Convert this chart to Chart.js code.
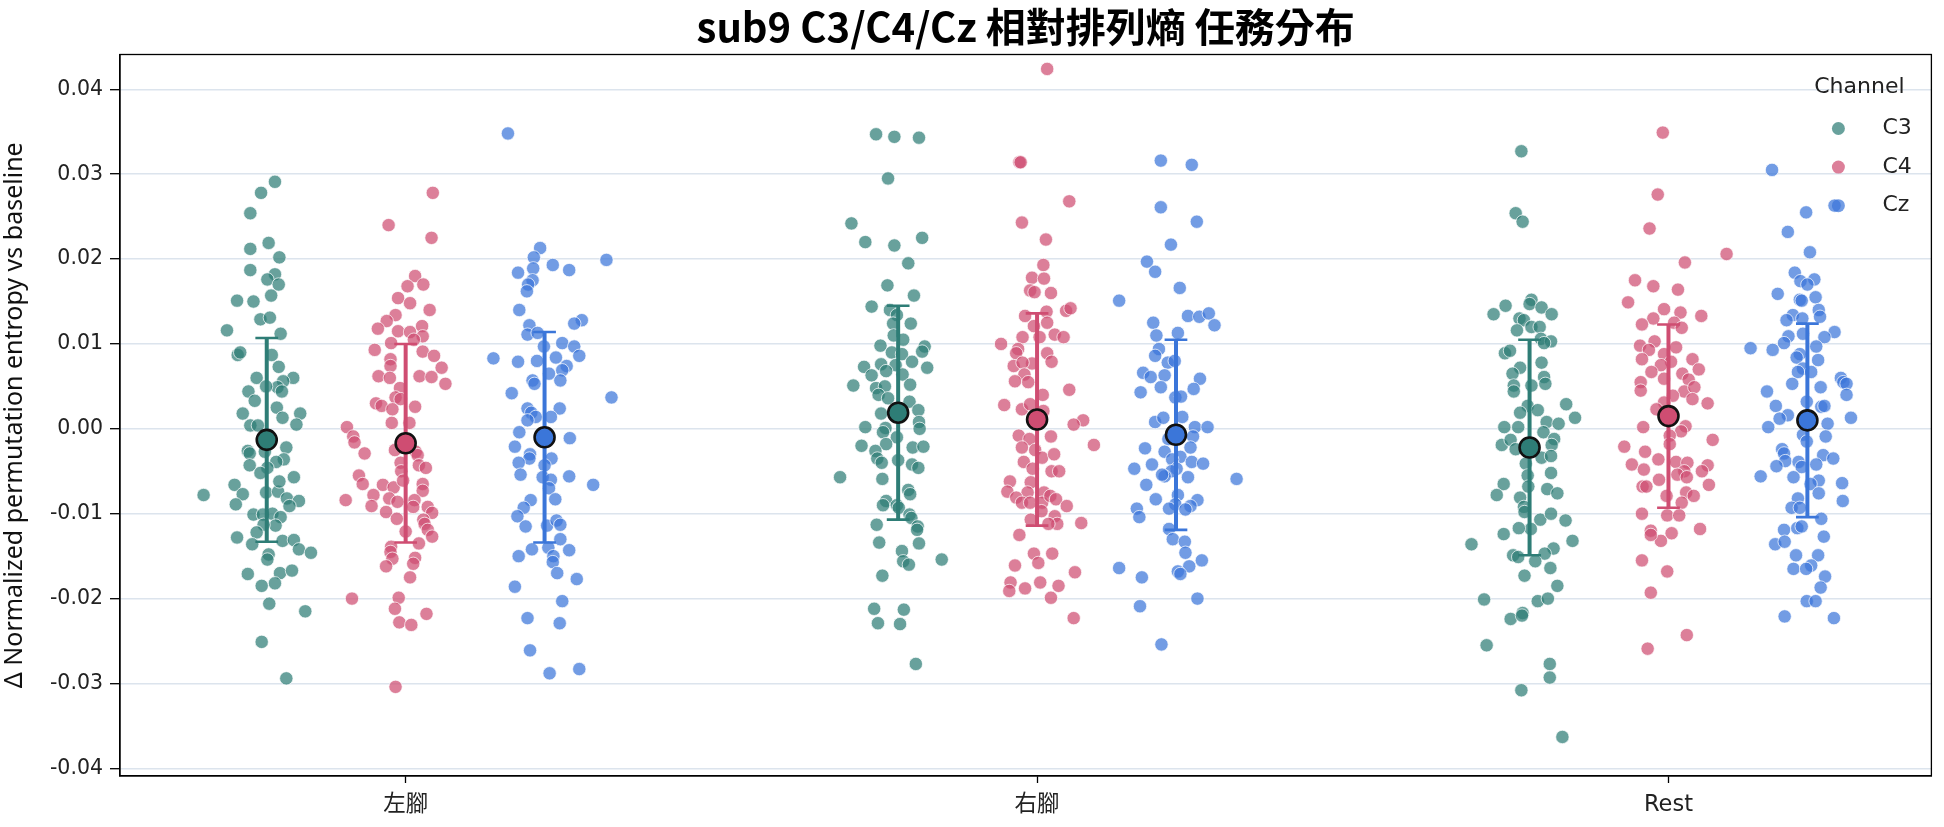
<!DOCTYPE html>
<html>
<head>
<meta charset="utf-8">
<title>sub9 C3/C4/Cz 相對排列熵 任務分布</title>
<script src="https://cdn.jsdelivr.net/npm/chart.js@4.4.1/dist/chart.umd.min.js"></script>
<style>
  html, body { margin: 0; padding: 0; background: #fff; }
  #wrap { width: 1944px; height: 827px; }
</style>
</head>
<body>
<div id="wrap"><canvas id="chart" width="1944" height="827"></canvas></div>
<script>
// categories / hues
const tasks = ['左腳', '右腳', 'Rest'];
const channels = ['C3', 'C4', 'Cz'];
const yTicks = [-0.04, -0.03, -0.02, -0.01, 0, 0.01, 0.02, 0.03, 0.04];
const chartTitle = 'sub9 C3/C4/Cz 相對排列熵 任務分布';

// per-trial values (Δ normalized permutation entropy)
const leftC3 = [0.0291,0.0278,0.0254,0.0219,0.0212,0.0202,0.0187,0.0182,0.0176,0.0170,0.0151,0.0150,0.0157,0.0129,0.0131,0.0116,0.0112,0.0087,0.0090,0.0087,0.0073,0.0060,0.0060,0.0056,0.0049,0.0044,0.0050,0.0044,0.0033,0.0025,0.0018,0.0018,0.0013,0.0004,0.0005,0.0004,-0.0026,-0.0029,-0.0022,-0.0027,-0.0036,-0.0039,-0.0043,-0.0046,-0.0052,-0.0057,-0.0066,-0.0077,-0.0078,-0.0075,-0.0074,-0.0062,-0.0082,-0.0085,-0.0091,-0.0089,-0.0101,-0.0101,-0.0100,-0.0104,-0.0114,-0.0113,-0.0122,-0.0128,-0.0136,-0.0132,-0.0131,-0.0142,-0.0146,-0.0148,-0.0154,-0.0171,-0.0170,-0.0167,-0.0182,-0.0185,-0.0206,-0.0215,-0.0251,-0.0294];
const leftC4 = [0.0278,0.0240,0.0225,0.0180,0.0168,0.0170,0.0154,0.0148,0.0140,0.0134,0.0127,0.0118,0.0115,0.0114,0.0121,0.0109,0.0105,0.0101,0.0093,0.0091,0.0086,0.0082,0.0074,0.0072,0.0062,0.0060,0.0062,0.0061,0.0053,0.0048,0.0037,0.0035,0.0030,0.0027,0.0023,0.0026,0.0007,0.0007,0.0002,-0.0009,-0.0016,-0.0029,-0.0025,-0.0027,-0.0031,-0.0040,-0.0043,-0.0046,-0.0050,-0.0055,-0.0065,-0.0066,-0.0069,-0.0065,-0.0073,-0.0061,-0.0084,-0.0078,-0.0091,-0.0082,-0.0086,-0.0084,-0.0092,-0.0092,-0.0098,-0.0099,-0.0106,-0.0107,-0.0112,-0.0119,-0.0121,-0.0127,-0.0135,-0.0139,-0.0145,-0.0153,-0.0152,-0.0159,-0.0162,-0.0175,-0.0200,-0.0199,-0.0212,-0.0218,-0.0228,-0.0231,-0.0304];
const leftCz = [0.0348,0.0213,0.0202,0.0193,0.0187,0.0184,0.0189,0.0199,0.0175,0.0170,0.0162,0.0140,0.0128,0.0124,0.0122,0.0111,0.0113,0.0097,0.0101,0.0097,0.0086,0.0083,0.0079,0.0080,0.0084,0.0074,0.0069,0.0057,0.0065,0.0057,0.0053,0.0042,0.0037,0.0024,0.0024,0.0019,0.0014,0.0014,0.0010,-0.0004,-0.0011,-0.0021,-0.0030,-0.0035,-0.0035,-0.0040,-0.0043,-0.0057,-0.0054,-0.0056,-0.0060,-0.0070,-0.0066,-0.0084,-0.0083,-0.0093,-0.0103,-0.0115,-0.0114,-0.0108,-0.0113,-0.0130,-0.0142,-0.0140,-0.0143,-0.0150,-0.0157,-0.0150,-0.0170,-0.0177,-0.0186,-0.0203,-0.0223,-0.0229,-0.0261,-0.0288,-0.0283];
const rightC3 = [0.0347,0.0344,0.0343,0.0295,0.0242,0.0220,0.0216,0.0225,0.0195,0.0169,0.0157,0.0144,0.0140,0.0134,0.0124,0.0124,0.0110,0.0105,0.0098,0.0097,0.0091,0.0090,0.0088,0.0079,0.0072,0.0073,0.0076,0.0075,0.0068,0.0063,0.0064,0.0051,0.0048,0.0050,0.0052,0.0040,0.0036,0.0032,0.0018,0.0022,0.0008,0.0002,0.0001,0.0000,-0.0004,-0.0010,-0.0020,-0.0018,-0.0022,-0.0021,-0.0026,-0.0035,-0.0040,-0.0037,-0.0042,-0.0046,-0.0057,-0.0059,-0.0072,-0.0077,-0.0085,-0.0090,-0.0090,-0.0093,-0.0101,-0.0105,-0.0113,-0.0115,-0.0119,-0.0134,-0.0135,-0.0144,-0.0156,-0.0160,-0.0154,-0.0173,-0.0212,-0.0213,-0.0229,-0.0230,-0.0277];
const rightC4 = [0.0424,0.0314,0.0314,0.0268,0.0243,0.0223,0.0193,0.0178,0.0177,0.0163,0.0161,0.0160,0.0139,0.0142,0.0133,0.0138,0.0125,0.0121,0.0108,0.0108,0.0111,0.0108,0.0100,0.0094,0.0089,0.0089,0.0077,0.0074,0.0078,0.0079,0.0064,0.0056,0.0055,0.0046,0.0040,0.0028,0.0023,0.0029,0.0021,0.0010,0.0005,-0.0008,-0.0012,-0.0009,-0.0019,-0.0022,-0.0025,-0.0034,-0.0030,-0.0039,-0.0047,-0.0050,-0.0050,-0.0063,-0.0062,-0.0074,-0.0075,-0.0075,-0.0081,-0.0087,-0.0087,-0.0087,-0.0079,-0.0083,-0.0091,-0.0097,-0.0103,-0.0107,-0.0112,-0.0111,-0.0112,-0.0125,-0.0147,-0.0147,-0.0158,-0.0161,-0.0169,-0.0181,-0.0191,-0.0188,-0.0181,-0.0185,-0.0199,-0.0223];
const rightCz = [0.0316,0.0311,0.0261,0.0244,0.0217,0.0197,0.0185,0.0166,0.0151,0.0133,0.0132,0.0136,0.0122,0.0125,0.0110,0.0113,0.0094,0.0086,0.0078,0.0080,0.0066,0.0061,0.0063,0.0049,0.0059,0.0047,0.0043,0.0037,0.0038,0.0008,0.0013,0.0014,0.0002,0.0002,-0.0009,-0.0012,-0.0023,-0.0027,-0.0022,-0.0033,-0.0036,-0.0039,-0.0041,-0.0042,-0.0047,-0.0047,-0.0050,-0.0056,-0.0057,-0.0054,-0.0059,-0.0066,-0.0083,-0.0078,-0.0084,-0.0089,-0.0091,-0.0095,-0.0094,-0.0094,-0.0104,-0.0118,-0.0130,-0.0133,-0.0146,-0.0155,-0.0162,-0.0168,-0.0171,-0.0164,-0.0175,-0.0200,-0.0209,-0.0254];
const restC3 = [0.0327,0.0254,0.0244,0.0152,0.0147,0.0145,0.0135,0.0143,0.0135,0.0130,0.0128,0.0120,0.0120,0.0116,0.0106,0.0103,0.0101,0.0089,0.0092,0.0078,0.0072,0.0065,0.0061,0.0053,0.0051,0.0044,0.0051,0.0027,0.0022,0.0019,0.0029,0.0013,0.0008,0.0006,0.0002,0.0002,-0.0004,-0.0012,-0.0019,-0.0013,-0.0024,-0.0019,-0.0034,-0.0032,-0.0041,-0.0055,-0.0052,-0.0065,-0.0078,-0.0068,-0.0071,-0.0076,-0.0081,-0.0092,-0.0098,-0.0107,-0.0100,-0.0108,-0.0118,-0.0117,-0.0124,-0.0136,-0.0132,-0.0141,-0.0147,-0.0149,-0.0151,-0.0156,-0.0164,-0.0173,-0.0185,-0.0201,-0.0203,-0.0200,-0.0217,-0.0224,-0.0220,-0.0255,-0.0277,-0.0293,-0.0308,-0.0363];
const restC4 = [0.0349,0.0276,0.0236,0.0206,0.0196,0.0175,0.0168,0.0164,0.0149,0.0141,0.0137,0.0133,0.0130,0.0123,0.0125,0.0119,0.0098,0.0103,0.0096,0.0093,0.0082,0.0088,0.0079,0.0075,0.0082,0.0070,0.0067,0.0065,0.0059,0.0058,0.0044,0.0049,0.0055,0.0045,0.0039,0.0035,0.0030,0.0031,0.0023,0.0002,0.0003,-0.0003,-0.0008,-0.0013,-0.0018,-0.0021,-0.0027,-0.0036,-0.0039,-0.0042,-0.0040,-0.0043,-0.0048,-0.0050,-0.0050,-0.0054,-0.0057,-0.0060,-0.0068,-0.0068,-0.0066,-0.0075,-0.0079,-0.0079,-0.0087,-0.0100,-0.0102,-0.0102,-0.0120,-0.0123,-0.0132,-0.0125,-0.0118,-0.0155,-0.0168,-0.0193,-0.0243,-0.0259];
const restCz = [0.0305,0.0263,0.0255,0.0232,0.0208,0.0184,0.0174,0.0176,0.0170,0.0159,0.0155,0.0152,0.0151,0.0140,0.0134,0.0128,0.0130,0.0132,0.0114,0.0112,0.0108,0.0109,0.0101,0.0095,0.0093,0.0097,0.0088,0.0081,0.0084,0.0071,0.0067,0.0067,0.0060,0.0055,0.0053,0.0040,0.0053,0.0049,0.0044,0.0027,0.0032,0.0026,0.0027,0.0016,0.0012,0.0013,0.0002,0.0006,-0.0007,-0.0009,-0.0015,-0.0024,-0.0029,-0.0031,-0.0035,-0.0038,-0.0039,-0.0044,-0.0042,-0.0045,-0.0056,-0.0057,-0.0061,-0.0065,-0.0064,-0.0076,-0.0085,-0.0082,-0.0093,-0.0093,-0.0106,-0.0119,-0.0117,-0.0115,-0.0127,-0.0136,-0.0133,-0.0149,-0.0149,-0.0161,-0.0165,-0.0165,-0.0174,-0.0187,-0.0203,-0.0203,-0.0221,-0.0223];

// strip jitter of each trial, in thousandths of a category step
const leftC3Jit = [13,-9,-26,3,-26,20,-26,13,1,19,-47,-21,7,-10,5,-63,22,-46,-42,8,19,-16,42,26,17,24,-1,-29,-19,16,-38,53,25,-26,47,-14,-30,-27,31,-3,27,15,-27,1,-10,43,-51,-38,-100,-1,18,20,32,51,36,-49,-21,-6,9,22,14,-5,-16,-47,-23,25,43,51,70,3,1,-30,21,40,13,-8,4,61,-8,31];
const leftC4Jit = [43,-27,41,15,3,28,-12,7,38,-16,-30,-44,-12,7,26,27,13,-23,-49,27,45,-24,-24,57,-43,-25,22,41,63,-9,-16,-8,-47,-38,-21,15,-22,6,-93,-83,-81,-65,-17,16,19,-8,21,32,-7,-74,-68,-36,-19,27,27,-4,-95,-51,-54,-26,-13,14,35,12,-31,42,-14,28,30,35,0,42,21,-23,-24,-21,15,12,-31,7,-85,-11,-17,33,-10,9,-16];
const leftCzJit = [-58,-7,-17,13,39,-42,-18,98,-19,-26,-28,-40,59,47,-24,-27,-11,-1,28,47,55,-81,-42,-12,18,35,28,25,7,-19,-16,-52,106,24,-27,-21,-14,10,-27,-40,40,-47,-23,-24,11,-41,0,-3,-38,39,10,7,77,-22,17,-33,-43,-30,4,19,25,25,-20,6,39,14,13,-41,20,51,-47,28,-27,24,-23,8,55];
const rightC3Jit = [-35,-6,33,-16,-74,-52,-6,38,16,-17,25,-42,-13,-2,-8,20,-7,8,-28,42,38,-10,6,22,46,-54,-27,-4,-19,-42,7,-71,-35,-21,19,-31,-16,18,-27,32,33,-52,-20,34,-24,-2,-58,-19,23,40,-36,-33,-26,0,22,32,-92,-25,16,19,-19,-24,-2,1,18,21,-34,31,30,-30,33,6,8,17,69,-25,-38,9,-32,3,28];
const rightC4Jit = [16,-28,-26,51,-24,14,10,-8,11,-11,-4,22,46,53,-19,15,16,-5,-23,4,28,42,-57,-30,-33,16,-8,-37,-23,23,-20,-35,-14,51,9,-52,-24,-11,10,73,58,-29,-12,22,90,-24,-3,8,27,-21,-7,23,35,-10,-43,-47,-15,11,-33,-24,-11,8,21,30,47,7,28,-10,32,70,18,-28,-5,24,2,-35,60,-42,-44,-19,5,34,22,58];
const rightCzJit = [-24,25,-24,33,-8,-46,-33,6,-90,19,37,52,61,-36,-31,3,-27,-33,-13,-2,-52,-40,-18,-24,38,28,-56,-1,8,-33,-20,10,30,50,27,-12,-49,-18,23,7,-6,25,43,-38,-66,1,-7,-18,19,-22,96,-47,-32,3,34,-1,23,15,-11,-62,-58,-11,-5,14,15,41,21,3,7,-90,-54,34,-57,-23];
const restC3Jit = [-13,-22,-11,3,0,-38,-57,19,35,-16,-9,3,16,-20,18,34,23,-39,-31,19,-15,-27,23,25,-25,-25,3,-3,13,-15,58,72,27,46,-40,-18,22,39,-44,-30,-22,35,19,34,-6,-3,34,-41,-52,-2,28,44,-15,-9,-8,17,34,57,2,-17,-41,-92,68,38,24,-26,-18,9,33,-8,44,-72,13,29,-11,-30,-12,-68,32,32,-13,52];
const restC4Jit = [-9,-17,-30,92,26,-53,-24,15,-64,-7,19,52,-24,-42,9,21,-45,-22,12,-31,-42,-7,4,-12,38,48,-27,22,-7,32,25,41,-44,-44,7,38,62,-7,-19,-40,27,20,2,70,2,-70,-37,-16,12,-58,30,62,-39,53,25,14,29,-15,-41,-35,64,28,40,-3,21,-42,-2,17,-28,5,-12,-28,50,-42,-2,-28,29,-33];
const restCzJit = [-56,43,-2,-31,4,-20,-11,11,0,-47,13,-12,-9,18,-23,-33,-8,20,43,-7,27,-30,-37,-90,-55,14,-12,17,-17,-7,6,-15,53,57,62,62,-24,21,-64,-50,-1,22,27,-31,-44,69,-62,32,-7,29,-1,-40,-37,25,41,-35,-14,-49,14,-9,-74,-22,18,5,55,18,56,-15,-25,-12,22,-37,-16,-9,26,-51,-36,17,-18,6,-22,-2,28,21,-1,13,-36,42];

// mean ± SD per task (左腳, 右腳, Rest)
const meanC3 = [-0.0013, 0.0019, -0.0022];
const meanC4 = [-0.0017, 0.0011, 0.0015];
const meanCz = [-0.0010, -0.0007, 0.0010];
const sdC3 = [0.0120, 0.0126, 0.0127];
const sdC4 = [0.0117, 0.0125, 0.0108];
const sdCz = [0.0124, 0.0112, 0.0114];

// styling
const hueOffset = [-0.22, 0, 0.22];
const capHalf = 0.018;
const solid = ['#2e7d76', '#cf4d72', '#3b76d9'];
const faded = ['rgba(46,125,118,0.72)', 'rgba(207,77,114,0.72)', 'rgba(59,118,217,0.72)'];
const cjk = "'Noto Sans CJK TC', 'Noto Sans', sans-serif";
const sans = "'Noto Sans', 'Noto Sans CJK TC', sans-serif";
const num = "'DejaVu Sans', 'Noto Sans CJK TC', sans-serif";

const vals = [[leftC3, rightC3, restC3], [leftC4, rightC4, restC4], [leftCz, rightCz, restCz]];
const jits = [[leftC3Jit, rightC3Jit, restC3Jit], [leftC4Jit, rightC4Jit, restC4Jit], [leftCzJit, rightCzJit, restCzJit]];
const means = [meanC3, meanC4, meanCz];
const sds = [sdC3, sdC4, sdCz];

function stripPoints(ch) {
    const pts = [];
    vals[ch].forEach((arr, t) => {
        arr.forEach((v, i) => pts.push({ x: t + hueOffset[ch] + (jits[ch][t][i] || 0) / 1000, y: v }));
    });
    return pts;
}

function stems(ch) {
    const pts = [];
    tasks.forEach((_, t) => {
        const x = t + hueOffset[ch], m = means[ch][t], s = sds[ch][t];
        pts.push({ x, y: m - s }, { x, y: m + s }, { x, y: null });
    });
    return pts;
}

function caps(ch) {
    const pts = [];
    tasks.forEach((_, t) => {
        const x = t + hueOffset[ch], m = means[ch][t], s = sds[ch][t];
        pts.push({ x: x - capHalf, y: m + s }, { x: x + capHalf, y: m + s }, { x, y: null });
        pts.push({ x: x - capHalf, y: m - s }, { x: x + capHalf, y: m - s }, { x, y: null });
    });
    return pts;
}

const datasets = [];
channels.forEach((name, ch) => {
    datasets.push({
        label: name, data: stripPoints(ch), order: 3,
        pointRadius: 6.7, pointBackgroundColor: faded[ch],
        pointBorderColor: 'rgba(255,255,255,0.9)', pointBorderWidth: 0.8
    });
});
channels.forEach((name, ch) => {
    datasets.push({
        label: name + ' sd', data: stems(ch), order: 2, showLine: true, spanGaps: false,
        pointRadius: 0, borderColor: solid[ch], borderWidth: 4, borderCapStyle: 'butt'
    });
    datasets.push({
        label: name + ' cap', data: caps(ch), order: 2, showLine: true, spanGaps: false,
        pointRadius: 0, borderColor: solid[ch], borderWidth: 2.6, borderCapStyle: 'butt'
    });
    datasets.push({
        label: name + ' mean', order: 1,
        data: tasks.map((_, t) => ({ x: t + hueOffset[ch], y: means[ch][t] })),
        pointRadius: 10, pointBackgroundColor: solid[ch],
        pointBorderColor: '#111', pointBorderWidth: 2.6
    });
});

// frame on all four sides, title centred over the plot, seaborn-like legend
const framePlugin = {
    id: 'frame',
    afterDatasetsDraw(chart) {
        const { ctx, chartArea: a } = chart;
        ctx.save();
        ctx.strokeStyle = '#000';
        ctx.lineWidth = 1.3;
        ctx.strokeRect(a.left, a.top, a.right - a.left, a.bottom - a.top);
        ctx.restore();
    }
};

const titlePlugin = {
    id: 'plotTitle',
    afterDraw(chart) {
        const { ctx, chartArea: a } = chart;
        ctx.save();
        ctx.font = `bold 40px ${cjk}`;
        ctx.fillStyle = '#000';
        ctx.textAlign = 'center';
        ctx.textBaseline = 'middle';
        ctx.fillText(chartTitle, (a.left + a.right) / 2, a.top - 28);
        ctx.restore();
    }
};

const legendPlugin = {
    id: 'channelLegend',
    afterDraw(chart) {
        const { ctx, chartArea: a } = chart;
        ctx.save();
        ctx.font = `22px ${num}`;
        ctx.fillStyle = '#222';
        ctx.textBaseline = 'middle';
        ctx.textAlign = 'center';
        ctx.fillText('Channel', a.right - 72, a.top + 33);
        ctx.textAlign = 'left';
        channels.forEach((name, ch) => {
            const y = a.top + 74 + ch * 38.6;
            ctx.beginPath();
            ctx.arc(a.right - 93, y, 6.5, 0, Math.PI * 2);
            ctx.fillStyle = faded[ch];
            ctx.fill();
            ctx.fillStyle = '#222';
            ctx.fillText(name, a.right - 49, y);
        });
        ctx.restore();
    }
};

new Chart(document.getElementById('chart'), {
    type: 'scatter',
    data: { datasets },
    options: {
        responsive: false,
        animation: false,
        devicePixelRatio: 1,
        events: [],
        layout: { padding: { left: 0, right: 8, top: 54.5, bottom: 0 } },
        plugins: {
            legend: { display: false },
            tooltip: { enabled: false },
            title: { display: false }
        },
        scales: {
            x: {
                type: 'linear',
                min: -0.4524,
                max: 2.4164,
                afterBuildTicks: s => { s.ticks = tasks.map((_, i) => ({ value: i })); },
                afterFit: s => { s.height = 51; },
                ticks: {
                    callback: v => tasks[v],
                    color: '#222',
                    font: { family: num, size: 22.5 },
                    padding: 9,
                    autoSkip: false,
                    maxRotation: 0
                },
                grid: { drawOnChartArea: false, drawTicks: true, tickLength: 7, tickColor: '#000', tickWidth: 1.3 },
                border: { color: '#000', width: 1.3 }
            },
            y: {
                min: -0.0409,
                max: 0.0441,
                afterBuildTicks: s => { s.ticks = yTicks.map(v => ({ value: v })); },
                afterFit: s => { s.width = 120; },
                ticks: {
                    callback: v => v.toFixed(2),
                    color: '#222',
                    font: { family: num, size: 20.5 },
                    padding: 7
                },
                grid: { color: '#dce4ed', lineWidth: 1.4, drawTicks: true, tickLength: 10, tickColor: '#000', tickWidth: 1.3 },
                border: { color: '#000', width: 1.3 },
                title: {
                    display: true,
                    text: 'Δ Normalized permutation entropy vs baseline',
                    color: '#111',
                    font: { family: sans, size: 25 },
                    padding: { top: 0, bottom: 0 }
                }
            }
        }
    },
    plugins: [framePlugin, titlePlugin, legendPlugin]
});
</script>
</body>
</html>
